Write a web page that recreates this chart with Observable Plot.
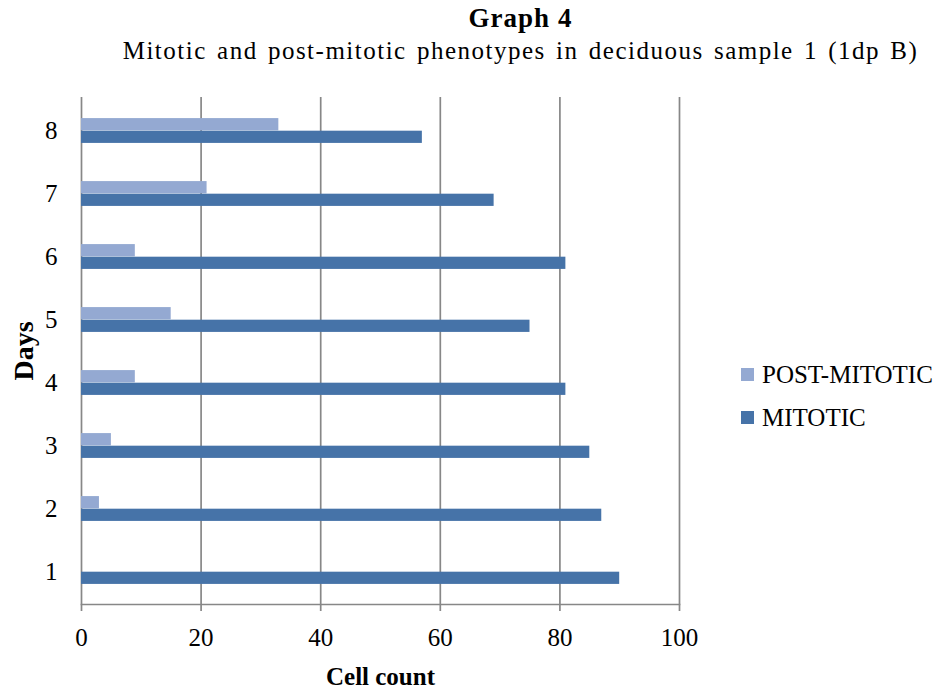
<!DOCTYPE html>
<html>
<head>
<meta charset="utf-8">
<script src="https://cdn.jsdelivr.net/npm/d3@7"></script>
<script src="https://cdn.jsdelivr.net/npm/@observablehq/plot@0.6"></script>
<style>
  html, body { margin: 0; padding: 0; background: #fff; }
  #wrap { position: relative; width: 951px; height: 691px; font-family: "Liberation Serif", "Times New Roman", serif; color: #000; overflow: hidden; }
  #title { position: absolute; left: 90px; width: 861px; top: 3px; text-align: center; font-size: 27px; font-weight: bold; line-height: 30px; letter-spacing: 1px; white-space: nowrap; }
  #subtitle { position: absolute; left: 90px; width: 861px; top: 37px; text-align: center; font-size: 25px; line-height: 28px; letter-spacing: 1.5px; word-spacing: 2.5px; white-space: nowrap; }
  #chart { position: absolute; left: 0; top: 70px; }
  #legend { position: absolute; left: 741px; top: 360.6px; font-size: 25px; }
  .item { display: flex; height: 43.7px; line-height: 28px; align-items: flex-start; }
  .item span { display: block; height: 28px; margin-left: 8px; }
  .sw { width: 13px; height: 13px; margin-top: 7px; }
  g[aria-label="y-axis label"] text, g[aria-label="y-axis label"] { font-size: 28px; font-weight: bold; }
  g[aria-label="x-axis label"] text, g[aria-label="x-axis label"] { font-size: 25px; font-weight: bold; }
</style>
</head>
<body>
<div id="wrap">
  <div id="title">Graph 4</div>
  <div id="subtitle">Mitotic and post-mitotic phenotypes in deciduous sample 1 (1dp B)</div>
  <div id="chart"></div>
  <div id="legend"></div>
</div>
<script>
const days = ["1", "2", "3", "4", "5", "6", "7", "8"];
const mitotic = [90, 87, 85, 81, 75, 81, 69, 57];
const postMitotic = [0, 3, 5, 9, 15, 9, 21, 33];
const seriesNames = ["POST-MITOTIC", "MITOTIC"];
const seriesColors = ["#94A9D2", "#4673A8"];
const xTicks = [0, 20, 40, 60, 80, 100];

const mitoticData = days.map((d, i) => ({day: d, series: "MITOTIC", value: mitotic[i]}));
const postData = days.map((d, i) => ({day: d, series: "POST-MITOTIC", value: postMitotic[i]}));

const W = 951, H = 621, mt = 27, mb = 87, ml = 81, mr = 272;
const bw = (H - mt - mb) / days.length;
const barH = 12.6;
const outer = bw / 2 - barH;
const gridColor = "#878787";

const chart = Plot.plot({
  width: W, height: H,
  marginLeft: ml, marginRight: mr, marginTop: mt, marginBottom: mb,
  style: {fontFamily: "'Liberation Serif', 'Times New Roman', serif", fontSize: "25px", color: "#000", background: "transparent", overflow: "visible"},
  x: {domain: [0, 100], ticks: xTicks},
  y: {domain: days.slice().reverse(), padding: 0},
  color: {domain: seriesNames, range: seriesColors},
  marks: [
    Plot.gridX(xTicks, {stroke: gridColor, strokeOpacity: 1, strokeWidth: 1.7}),
    Plot.frame({anchor: "bottom", stroke: gridColor, strokeWidth: 1.7}),
    Plot.barX(postData, {x: "value", y: "day", fill: d => d.series, insetTop: outer, insetBottom: bw / 2}),
    Plot.barX(mitoticData, {x: "value", y: "day", fill: d => d.series, insetTop: bw / 2, insetBottom: outer}),
    Plot.axisX(xTicks, {tickSize: 7, tickPadding: 17, stroke: gridColor, strokeWidth: 1.7, fontSize: 25,
      label: "Cell count", labelAnchor: "center", labelOffset: 80, labelArrow: "none"}),
    Plot.axisY({tickSize: 0, tickPadding: 24, fontSize: 25,
      label: "Days", labelAnchor: "center", labelOffset: 68, labelArrow: "none"})
  ]
});
document.getElementById("chart").appendChild(chart);

const legend = document.getElementById("legend");
seriesNames.forEach((name, i) => {
  const item = document.createElement("div");
  item.className = "item";
  const sw = document.createElement("div");
  sw.className = "sw";
  sw.style.background = seriesColors[i];
  const label = document.createElement("span");
  label.textContent = name;
  item.appendChild(sw);
  item.appendChild(label);
  legend.appendChild(item);
});
</script>
</body>
</html>
